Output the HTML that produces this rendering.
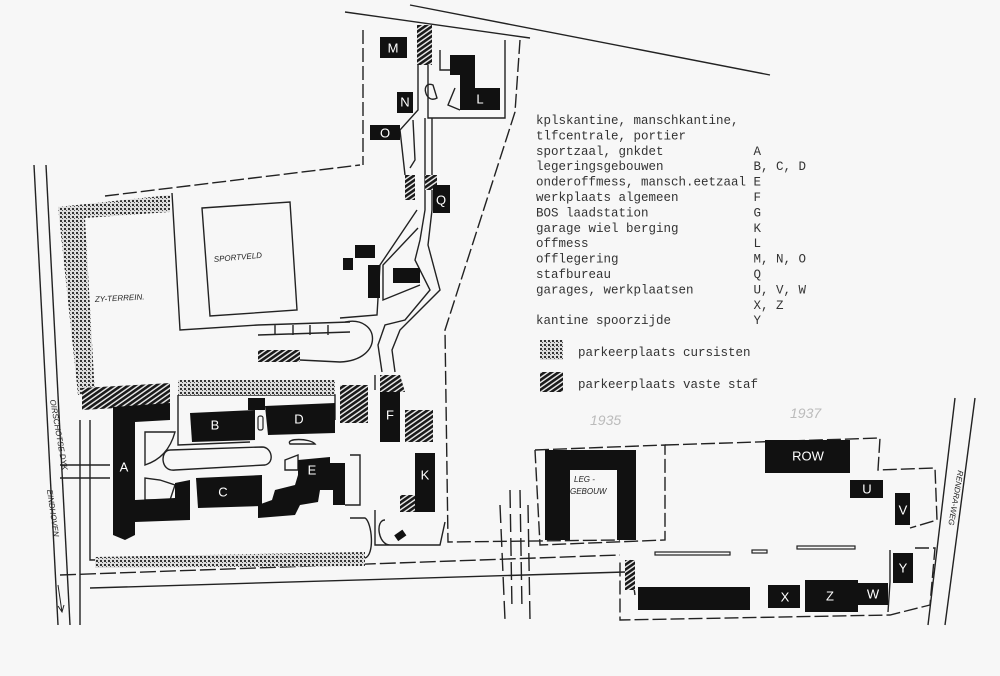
<!DOCTYPE html>
<html><head><meta charset="utf-8"><style>
html,body{margin:0;padding:0;background:#f7f7f7;}
svg{display:block;}
.m{font-family:"Liberation Mono",monospace;font-size:12.5px;fill:#333;white-space:pre;}
.lb{font-family:"Liberation Sans",sans-serif;font-size:13px;fill:#fff;text-anchor:middle;dominant-baseline:central;}
.h{font-family:"Liberation Sans",sans-serif;font-size:8px;font-style:italic;fill:#222;}
</style></head><body>
<svg width="1000" height="676" viewBox="0 0 1000 676" xmlns="http://www.w3.org/2000/svg">
<defs>
<pattern id="dots" width="4" height="4" patternUnits="userSpaceOnUse">
<rect width="4" height="4" fill="#ddd"/><rect x="0" y="0" width="2" height="2" fill="#333"/><rect x="2" y="2" width="1" height="1" fill="#555"/>
</pattern>
<pattern id="hatch" width="4" height="4" patternUnits="userSpaceOnUse" patternTransform="rotate(-35)">
<rect width="4" height="4" fill="#eee"/><rect width="4" height="2.6" fill="#1a1a1a"/>
</pattern>
</defs>
<rect width="1000" height="676" fill="#f7f7f7"/>
<g fill="none" stroke="#222" stroke-width="1.4">
<line x1="34" y1="165" x2="58" y2="625"/><line x1="46" y1="165" x2="70" y2="625"/>
<line x1="345" y1="12" x2="530" y2="38"/><line x1="410" y1="5" x2="770" y2="75"/>
<path d="M105,196 L360,165" stroke-dasharray="14,4"/>
<path d="M363,30 L363,165" stroke-dasharray="14,4"/>
<path d="M520,40 L515,112 L445,330 L448,542 L620,540" stroke-dasharray="14,4"/>
<path d="M172,193 L180,330 L258,325"/>
<path d="M202,208 L290,202 L297,310 L210,316 Z"/>
<path d="M258,325 L350,322 M258,335 L350,332 M275,325 L275,335 M293,325 L293,335 M310,325 L310,335 M328,325 L328,335"/>
<path d="M418,25 L418,110 L400,130 L405,175 M428,65 L428,118 L505,118 L505,40 M440,50 L440,70 L455,70 M413,120 L415,160 L410,168"/>
<path d="M425,118 L425,210 L420,240 L415,260 L430,290 L405,320 L385,325 L378,345 L382,372"/>
<path d="M432,118 L432,210 L428,245 L440,290 L400,330 L392,350 L395,372"/>
<path d="M418,228 L383,265 L383,300 L420,285 M417,210 L380,265 L377,315 L340,318"/>
<path d="M345,322 C380,315 385,360 340,362 L300,360"/>
<path d="M433,85 C420,80 425,105 437,98 Z M455,88 L448,105 L460,110"/>
<path d="M80,420 L80,625 M90,420 L90,560 L365,558 C375,555 372,522 365,518 L350,518"/>
<path d="M60,465 L110,465 M60,478 L110,478"/>
<path d="M178,395 L178,445 L250,442 M178,395 L335,395 L335,420"/>
<path d="M170,450 C160,450 160,472 175,470 L265,465 C275,463 272,447 262,447 Z"/>
<path d="M145,432 L175,432 C170,450 160,460 145,465 Z M145,478 L145,500 L170,500 L175,485 L160,480 Z"/>
<path d="M285,460 L298,455 L298,470 L285,470 Z M290,444 C285,438 310,438 315,444 Z M350,455 L360,455 L360,505 L345,505"/>
<path d="M375,375 L375,390 M375,510 L375,545 L440,545 L445,522 M385,520 C375,520 378,545 390,545"/>
<path d="M60,575 L620,555" stroke-dasharray="16,4"/>
<path d="M90,588 L625,572"/>
<path d="M510,490 L512,610 M520,490 L522,610 M500,505 L505,620 M528,505 L530,620" stroke-dasharray="18,6"/>
<path d="M535,450 L665,445 L665,540 L540,545 L535,450" stroke-dasharray="14,4"/>
<path d="M665,445 L880,438 L878,470 L935,468 L937,520 L910,528 M915,548 L935,548 L930,605 L890,615 L620,620 L620,560" stroke-dasharray="14,4"/>
<path d="M630,560 L635,595 M890,550 L890,582 L888,612"/>
<path d="M955,398 L928,625 M975,398 L945,625"/>
</g>
<g fill="url(#dots)">
<path d="M58,207 L170,195 L170,212 L85,218 L95,395 L78,395 Z"/>
<rect x="178" y="380" width="157" height="15"/>
<path d="M95,557 L365,552 L365,566 L95,568 Z"/>
<rect x="540" y="340" width="23" height="20"/>
</g>
<g fill="url(#hatch)">
<path d="M82,388 L170,383 L170,405 L82,410 Z"/>
<rect x="258" y="350" width="42" height="12"/>
<rect x="340" y="385" width="28" height="38"/>
<path d="M380,375 L400,375 L405,392 L380,392 Z"/>
<rect x="405" y="410" width="28" height="32"/>
<rect x="400" y="495" width="35" height="17"/>
<rect x="417" y="25" width="15" height="40"/>
<rect x="405" y="175" width="10" height="25"/>
<rect x="425" y="175" width="12" height="15"/>
<rect x="625" y="560" width="10" height="30"/>
<rect x="540" y="372" width="23" height="20"/>
</g>
<g fill="#111">
<path d="M113,407 L170,403 L170,420 L135,422 L135,500 L175,498 L175,483 L190,480 L190,520 L135,522 L135,535 L125,540 L113,535 Z"/>
<path d="M190,413 L255,410 L255,440 L192,442 Z"/><rect x="248" y="398" width="17" height="12"/>
<path d="M265,406 L335,403 L335,433 L268,435 Z"/>
<path d="M196,478 L262,475 L262,506 L198,508 Z"/>
<path d="M298,460 L330,457 L330,463 L345,463 L345,505 L333,505 L333,490 L320,490 L318,502 L300,505 L295,515 L258,518 L258,505 L272,500 L275,490 L295,485 L298,475 Z"/>
<path d="M380,392 L400,392 L400,442 L380,442 Z"/>
<path d="M415,453 L435,453 L435,512 L415,512 Z"/>
<rect x="395" y="532" width="10" height="7" transform="rotate(-35 400 535)"/>
<rect x="380" y="37" width="27" height="21"/>
<rect x="397" y="92" width="16" height="21"/>
<rect x="370" y="125" width="30" height="15"/>
<path d="M450,55 L475,55 L475,88 L500,88 L500,110 L460,110 L460,75 L450,75 Z"/>
<rect x="433" y="185" width="17" height="28"/>
<rect x="355" y="245" width="20" height="13"/><rect x="343" y="258" width="10" height="12"/>
<rect x="368" y="265" width="12" height="33"/><rect x="393" y="268" width="27" height="15"/>
<path d="M545,450 L636,450 L636,540 L617,540 L617,470 L570,470 L570,540 L545,540 Z"/>
<rect x="765" y="440" width="85" height="33"/>
<rect x="850" y="480" width="33" height="18"/>
<rect x="895" y="493" width="15" height="32"/>
<rect x="893" y="553" width="20" height="30"/>
<rect x="638" y="587" width="112" height="23"/>
<rect x="768" y="585" width="32" height="23"/>
<rect x="805" y="580" width="53" height="32"/>
<rect x="858" y="583" width="30" height="22"/>
</g>
<g fill="none" stroke="#222" stroke-width="1.2">
<rect x="655" y="552" width="75" height="3"/><rect x="752" y="550" width="15" height="3"/><rect x="797" y="546" width="58" height="3"/>
<rect x="258" y="416" width="5" height="14" rx="2"/>
</g>
<text class="lb" x="124" y="467">A</text><text class="lb" x="215" y="425">B</text>
<text class="lb" x="223" y="492">C</text><text class="lb" x="299" y="419">D</text>
<text class="lb" x="312" y="470">E</text><text class="lb" x="390" y="415">F</text>
<text class="lb" x="425" y="475">K</text><text class="lb" x="393" y="48">M</text>
<text class="lb" x="405" y="102">N</text><text class="lb" x="385" y="133">O</text>
<text class="lb" x="480" y="99">L</text><text class="lb" x="441" y="200">Q</text>
<text class="lb" x="808" y="456">ROW</text><text class="lb" x="867" y="489">U</text>
<text class="lb" x="903" y="510">V</text><text class="lb" x="903" y="568">Y</text>
<text class="lb" x="785" y="597">X</text><text class="lb" x="830" y="596">Z</text>
<text class="lb" x="873" y="594">W</text>
<text class="h" x="574" y="482">LEG -</text><text class="h" x="570" y="494">GEBOUW</text>
<text class="h" x="214" y="262" transform="rotate(-5 214 262)">SPORTVELD</text>
<text class="h" x="95" y="302" transform="rotate(-3 95 302)">ZY-TERREIN.</text>
<text class="h" x="0" y="0" transform="translate(50,400) rotate(80)">OIRSCHOTSE DYK</text>
<text class="h" x="0" y="0" transform="translate(47,490) rotate(82)">EINDHOVEN</text>
<text class="h" x="0" y="0" transform="translate(958,470) rotate(100)">RENDRA-WEG</text>
<path d="M58,585 L62,612 M58,606 L62,612 L64,605" stroke="#222" fill="none"/>
<text x="590" y="425" font-family="Liberation Sans" font-size="14" fill="#bbb" font-style="italic">1935</text>
<text x="790" y="418" font-family="Liberation Sans" font-size="14" fill="#bbb" font-style="italic">1937</text>
<text class="m" x="536" y="124">kplskantine, manschkantine,</text>
<text class="m" x="536" y="139.4">tlfcentrale, portier</text>
<text class="m" x="536" y="154.8">sportzaal, gnkdet            A</text>
<text class="m" x="536" y="170.2">legeringsgebouwen            B, C, D</text>
<text class="m" x="536" y="185.6">onderoffmess, mansch.eetzaal E</text>
<text class="m" x="536" y="201">werkplaats algemeen          F</text>
<text class="m" x="536" y="216.4">BOS laadstation              G</text>
<text class="m" x="536" y="231.8">garage wiel berging          K</text>
<text class="m" x="536" y="247.2">offmess                      L</text>
<text class="m" x="536" y="262.6">offlegering                  M, N, O</text>
<text class="m" x="536" y="278">stafbureau                   Q</text>
<text class="m" x="536" y="293.4">garages, werkplaatsen        U, V, W</text>
<text class="m" x="536" y="308.8">                             X, Z</text>
<text class="m" x="536" y="324.2">kantine spoorzijde           Y</text>
<text class="m" x="578" y="356">parkeerplaats cursisten</text>
<text class="m" x="578" y="388">parkeerplaats vaste staf</text>
</svg>
</body></html>
